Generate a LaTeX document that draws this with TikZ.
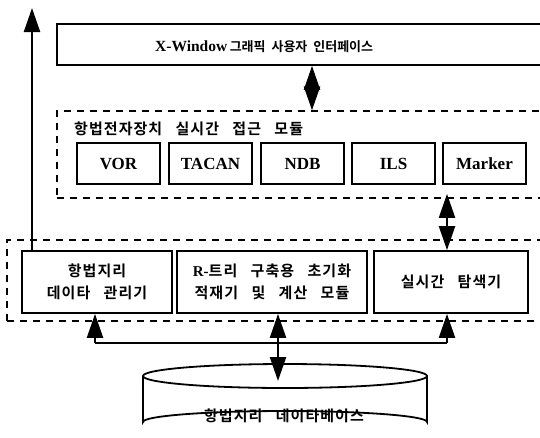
\documentclass[tikz,border=0pt]{standalone}
\usepackage{fontspec}
\setmainfont{Liberation Serif}
\newfontfamily\krsp[LetterSpace=7,WordSpace=3]{Noto Sans CJK KR Bold}
\newfontfamily\krnarrow[WordSpace=2]{Noto Sans CJK KR Bold}
\usetikzlibrary{arrows.meta}
\newcommand\korx[1]{{\krsp\fontsize{15}{22}\selectfont #1}}
\newcommand\latx[1]{{\fontsize{17}{22}\selectfont\bfseries #1}}
\tikzset{
  box/.style={draw, line width=1.8pt, inner sep=0pt, align=center, font=\fontsize{15}{22}\selectfont},
  dbox/.style={draw, line width=1.3pt, dash pattern=on 7pt off 6pt},
  shaft/.style={line width=2.2pt},
  arr/.style={line width=2.2pt, -{Triangle[length=24pt,width=16pt]}},
  darr/.style={line width=2.2pt, {Triangle[length=24pt,width=16pt]}-{Triangle[length=24pt,width=16pt]}},
}
\begin{document}
\begin{tikzpicture}[x=1pt,y=-1pt]
\useasboundingbox (0,0) rectangle (540,437);
% top GUI box
\node[box, minimum width=503pt, minimum height=41pt] (xwin) at (308.5,44.5) {};
\node[anchor=west, inner sep=0pt] (xwint) at (155,47)
  {\latx{\fontsize{15.5}{18}\selectfont X-Window} {\krnarrow\fontsize{13}{15}\selectfont 그래픽 사용자 인터페이스}};
% module dashed box
\node[dbox, minimum width=503pt, minimum height=87pt, inner sep=0pt] (mod) at (308.5,154.5) {};
\node[anchor=west, inner sep=0pt] (modt) at (74,129) {\korx{항법전자장치 실시간 접근 모듈}};
\node[box, minimum width=83pt, minimum height=41pt] (vor) at (118.5,163.5) {\latx{VOR}};
\node[box, minimum width=83pt, minimum height=41pt] (tac) at (210.5,163.5) {\latx{TACAN}};
\node[box, minimum width=83pt, minimum height=41pt] (ndb) at (302.5,163.5) {\latx{NDB}};
\node[box, minimum width=83pt, minimum height=41pt] (ils) at (393.5,163.5) {\latx{ILS}};
\node[box, minimum width=83pt, minimum height=41pt] (mk) at (484.5,163.5) {\latx{Marker}};
% lower dashed box
\node[dbox, minimum width=553pt, minimum height=81pt, inner sep=0pt] (low) at (283.5,280.5) {};
\node[box, minimum width=150pt, minimum height=62pt] (lbox) at (97,282) {\korx{항법지리}\\\korx{데이타 관리기}};
\node[box, minimum width=190pt, minimum height=62pt] (mbox) at (272,282) {{\bfseries R-}\korx{트리 구축용 초기화}\\\korx{적재기 및 계산 모듈}};
\node[box, minimum width=154pt, minimum height=62pt] (rbox) at (451,282) {\korx{실시간 탐색기}};
% database cylinder
\draw[line width=1.8pt] (143,376) -- (143,422) arc[start angle=180, end angle=360, x radius=142, y radius=11] -- (427,376);
\draw[line width=1.8pt] (285,376) ellipse[x radius=142, y radius=12];
\node[inner sep=0pt] (dbt) at (284,416) {\korx{항법지리 데이타베이스}};
% connectors
\coordinate (ltop) at (32,8);
\coordinate (xa) at (312,0);
\coordinate (xb) at (447,0);
\coordinate (busl) at (95,343);
\coordinate (busr) at (447,343);
\coordinate (busm) at (278,343);
\coordinate (dbtop) at (278,381);
\draw[arr] (ltop |- lbox.north) -- (ltop);
\draw[darr] (xa |- xwin.south) -- (xa |- mod.north);
\draw[darr, shorten <=9pt] (xb |- mk.south) -- (xb |- rbox.north);
\draw[shaft] (busl) -- (busr);
\draw[arr] (busl) -- (busl |- lbox.south);
\draw[arr] (busr) -- (busr |- rbox.south);
\draw[darr] (busm |- mbox.south) -- (dbtop);
\end{tikzpicture}
\end{document}
